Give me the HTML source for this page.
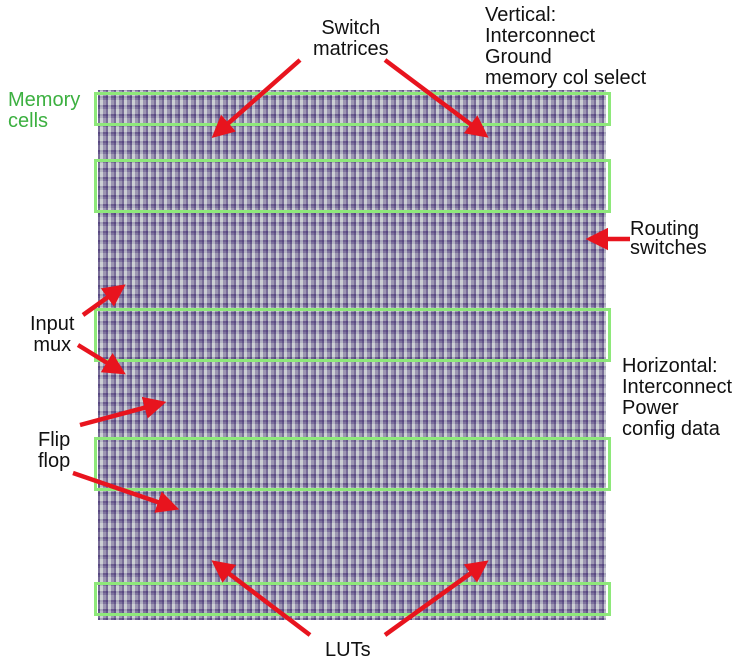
<!DOCTYPE html>
<html><head><style>
body{margin:0;width:750px;height:666px;background:#fff;position:relative;overflow:hidden;font-family:"Liberation Sans",sans-serif;}
.die{position:absolute;left:98px;top:90px;width:508px;height:530px;
background-color:#9a93ad;
background-image:
repeating-linear-gradient(90deg,rgba(60,40,110,.5) 0 2px,rgba(230,240,232,.45) 2px 5px,rgba(80,60,130,.25) 5px 8px),
repeating-linear-gradient(0deg,rgba(60,40,110,.4) 0 2px,rgba(235,242,235,.35) 2px 7px,rgba(90,70,140,.2) 7px 9px);}
.g{position:absolute;left:94px;width:511px;border:3.5px solid #8ee87a;}
.t{position:absolute;font-size:20px;line-height:21px;color:#111;}
</style></head><body>
<div class="die"></div>
<div class="g" style="top:92px;height:28px"></div>
<div class="g" style="top:159px;height:48px"></div>
<div class="g" style="top:308px;height:48px"></div>
<div class="g" style="top:437px;height:48px"></div>
<div class="g" style="top:582px;height:28px"></div>
<div class="t" style="left:313px;top:18px;text-align:center">Switch<br>matrices</div>
<div class="t" style="left:485px;top:5px">Vertical:<br>Interconnect<br>Ground<br>memory col select</div>
<div class="t" style="left:8px;top:90px;color:#3cb040">Memory<br>cells</div>
<div class="t" style="left:630px;top:220px;line-height:19px">Routing<br>switches</div>
<div class="t" style="left:30px;top:314px;text-align:center">Input<br>mux</div>
<div class="t" style="left:622px;top:356px">Horizontal:<br>Interconnect<br>Power<br>config data</div>
<div class="t" style="left:38px;top:430px;text-align:center">Flip<br>flop</div>
<div class="t" style="left:325px;top:640px">LUTs</div>
<svg width="750" height="666" style="position:absolute;left:0;top:0">
<defs><marker id="a" viewBox="0 0 10 10" refX="8" refY="5" markerWidth="5" markerHeight="5" orient="auto"><path d="M0,0L10,5L0,10z" fill="#e8141e"/></marker></defs>
<g stroke="#e8141e" stroke-width="4.5" marker-end="url(#a)">
<line x1="300" y1="60" x2="215" y2="135"/>
<line x1="385" y1="60" x2="485" y2="135"/>
<line x1="630" y1="239" x2="590" y2="239"/>
<line x1="83" y1="315" x2="122" y2="287"/>
<line x1="78" y1="345" x2="122" y2="372"/>
<line x1="80" y1="425" x2="162" y2="403"/>
<line x1="73" y1="473" x2="175" y2="508"/>
<line x1="310" y1="635" x2="215" y2="563"/>
<line x1="385" y1="635" x2="485" y2="563"/>
</g></svg>
</body></html>
